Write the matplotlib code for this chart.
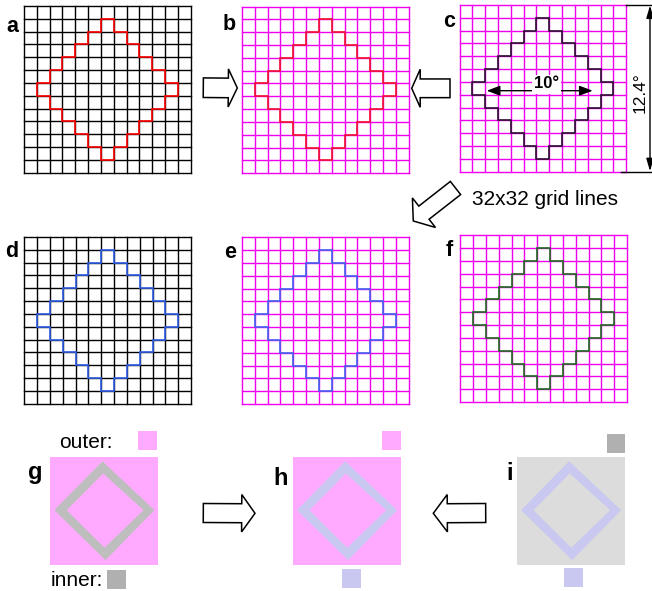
"""
Grid / staircase schematic: panels a-f (13x13 grids with a stepped diamond)
and panels g-i (colour-coded diamond rings).
"""

import numpy as np
import matplotlib.pyplot as plt
from matplotlib.patches import Polygon, Rectangle

plt.rcParams['font.family'] = ['Liberation Sans', 'DejaVu Sans']

# ── Data ──────────────────────────────────────────────────────────────────────
N_CELLS = 13
STAIR_TOP = 1                                   # first grid row of the diamond
stair_left  = [6, 5, 4, 3, 2, 1, 2, 3, 4, 5, 6]  # left column of each band
stair_right = [7, 8, 9, 10, 11, 12, 11, 10, 9, 8, 7]

grid_labels = ['a', 'b', 'c', 'd', 'e', 'f']
grid_colors = ['#000000', '#f000f0', '#f000f0', '#000000', '#f000f0', '#f000f0']
stair_colors = ['#ff0000', '#f01030', '#2a1030', '#3060e8', '#4262ee', '#1f6a1f']

ring_labels = ['g', 'h', 'i']
ring_bg     = ['#ffaaff', '#ffaaff', '#dcdcdc']
ring_fg     = ['#bebebe', '#c8c8f0', '#c8c8f0']
outer_swatch = ['#ffaaff', '#ffaaff', '#b0b0b0']
inner_swatch = ['#b0b0b0', '#c8c8f0', '#c8c8f0']

# ring diamond in fractions of the square (top, right, bottom, left)
ring_outer = [(0.486, 0.042), (0.966, 0.495), (0.514, 0.958), (0.040, 0.495)]
ring_inner = [(0.491, 0.155), (0.866, 0.495), (0.505, 0.843), (0.155, 0.495)]

# ── Layout (pixels) ───────────────────────────────────────────────────────────
grid_boxes = [(24, 6), (242, 6.5), (459.5, 5), (24.3, 237), (242, 237.3), (460.3, 235.3)]
GRID_SIZE = 166.7
label_pos = [(6.5, 32.3), (223, 30), (443, 27.3), (5, 257.3), (224, 258.3), (446, 255.5)]

ring_boxes = [(50, 456.7), (292.7, 456.7), (516.7, 456.7)]
RING_SIZE = 108
ring_label_pos = [(28, 479.5), (273, 485), (506, 480)]
outer_sw_pos = [(138, 431), (382.3, 431), (606.7, 434)]
inner_sw_pos = [(107.3, 570), (342, 569), (564, 568.3)]
SW = 18.7


def staircase(left, right, top):
    """Outline of a stepped diamond in grid-cell coordinates."""
    n = len(left)
    pts = [(left[0], top), (right[0], top)]
    for i in range(n):
        pts.append((right[i], top + i + 1))
        if i + 1 < n:
            pts.append((right[i + 1], top + i + 1))
    pts.append((left[-1], top + n))
    for i in range(n - 1, -1, -1):
        pts.append((left[i], top + i))
        if i - 1 >= 0:
            pts.append((left[i - 1], top + i))
    return np.array(pts, dtype=float)


def block_arrow(ax, tail, tip, shaft_w, head_w, head_len):
    t = np.asarray(tail, float)
    p = np.asarray(tip, float)
    u = (p - t) / np.linalg.norm(p - t)
    n = np.array([-u[1], u[0]])
    base = p - u * head_len
    pts = [t + n * shaft_w / 2, base + n * shaft_w / 2, base + n * head_w / 2, p,
           base - n * head_w / 2, base - n * shaft_w / 2, t - n * shaft_w / 2]
    ax.add_patch(Polygon(pts, closed=True, fc='white', ec='black', lw=1.1, zorder=4))


fig = plt.figure(figsize=(6.52, 5.91), dpi=100)
ax = fig.add_axes([0, 0, 1, 1])
ax.set_xlim(0, 652)
ax.set_ylim(591, 0)
ax.axis('off')

# ── Panels a-f: grids with stepped diamond ────────────────────────────────────
cell = GRID_SIZE / N_CELLS
outline = staircase(stair_left, stair_right, STAIR_TOP)
for (x0, y0), lab, gc, sc, lp in zip(grid_boxes, grid_labels, grid_colors,
                                     stair_colors, label_pos):
    for k in range(N_CELLS + 1):
        ax.plot([x0 + k * cell] * 2, [y0, y0 + GRID_SIZE], color=gc, lw=1.0, zorder=1)
        ax.plot([x0, x0 + GRID_SIZE], [y0 + k * cell] * 2, color=gc, lw=1.0, zorder=1)
    ax.add_patch(Polygon(np.column_stack([x0 + outline[:, 0] * cell,
                                          y0 + outline[:, 1] * cell]),
                         closed=True, fill=False, ec=sc, lw=1.2, zorder=2))
    ax.text(lp[0], lp[1], lab, fontsize=15.5, fontweight='bold', ha='left',
            va='baseline')

# dimension marks on panel c
cx0, cy0 = grid_boxes[2]
ax.plot([cx0 + GRID_SIZE, 652], [cy0, cy0], color='black', lw=1.0)
ax.plot([cx0 + GRID_SIZE - 5, 652], [cy0 + GRID_SIZE, cy0 + GRID_SIZE], color='black', lw=1.0)
ax.annotate('', xy=(650, cy0 + 0.5), xytext=(650, cy0 + GRID_SIZE - 0.5),
            arrowprops=dict(arrowstyle='<|-|>,head_length=0.75,head_width=0.22',
                            mutation_scale=10, color='black', lw=1.0,
                            shrinkA=0, shrinkB=0))
ax.text(640, 93, '12.4°', fontsize=12.5, rotation=90, ha='center', va='center')
ax.annotate('', xy=(486.7, 90.7), xytext=(592.7, 90.7),
            arrowprops=dict(arrowstyle='<|-|>,head_length=0.8,head_width=0.3',
                            mutation_scale=10, color='black', lw=1.0,
                            shrinkA=0, shrinkB=0), zorder=3)
ax.text(546.5, 84, '10°', fontsize=12, fontweight='bold', ha='center', va='center',
        zorder=5, bbox=dict(boxstyle='square,pad=0.12', fc='white', ec='none'))

# hollow arrows between the grid panels
block_arrow(ax, (203.3, 87.7), (237.3, 88), 19.6, 38, 9)
block_arrow(ax, (450, 88.3), (411.7, 88.3), 18.7, 38, 8.5)
block_arrow(ax, (455.5, 188), (413.3, 221), 16.7, 37.5, 13.5)
ax.text(472, 205, '32x32 grid lines', fontsize=15, ha='left', va='baseline')

# ── Panels g-i: diamond rings ─────────────────────────────────────────────────
for (x0, y0), lab, bg, fg, osw, isw, lp, op, ip in zip(
        ring_boxes, ring_labels, ring_bg, ring_fg, outer_swatch, inner_swatch,
        ring_label_pos, outer_sw_pos, inner_sw_pos):
    ax.add_patch(Rectangle((x0, y0), RING_SIZE, RING_SIZE, fc=bg, ec='none'))
    ax.add_patch(Polygon([(x0 + fx * RING_SIZE, y0 + fy * RING_SIZE) for fx, fy in ring_outer],
                         closed=True, fc=fg, ec='none'))
    ax.add_patch(Polygon([(x0 + fx * RING_SIZE, y0 + fy * RING_SIZE) for fx, fy in ring_inner],
                         closed=True, fc=bg, ec='none'))
    ax.add_patch(Rectangle(op, SW, SW, fc=osw, ec='none'))
    ax.add_patch(Rectangle(ip, SW, SW, fc=isw, ec='none'))
    ax.text(lp[0], lp[1], lab, fontsize=17, fontweight='bold', ha='left', va='baseline')

ax.text(59.5, 448.3, 'outer:', fontsize=15, ha='left', va='baseline')
ax.text(51, 585.5, 'inner:', fontsize=15, ha='left', va='baseline')

block_arrow(ax, (203.3, 513), (255, 513.3), 19, 37.3, 13.3)
block_arrow(ax, (485.7, 513), (433.3, 513.3), 19, 37.3, 14)

fig.savefig('out.png', dpi=100)
